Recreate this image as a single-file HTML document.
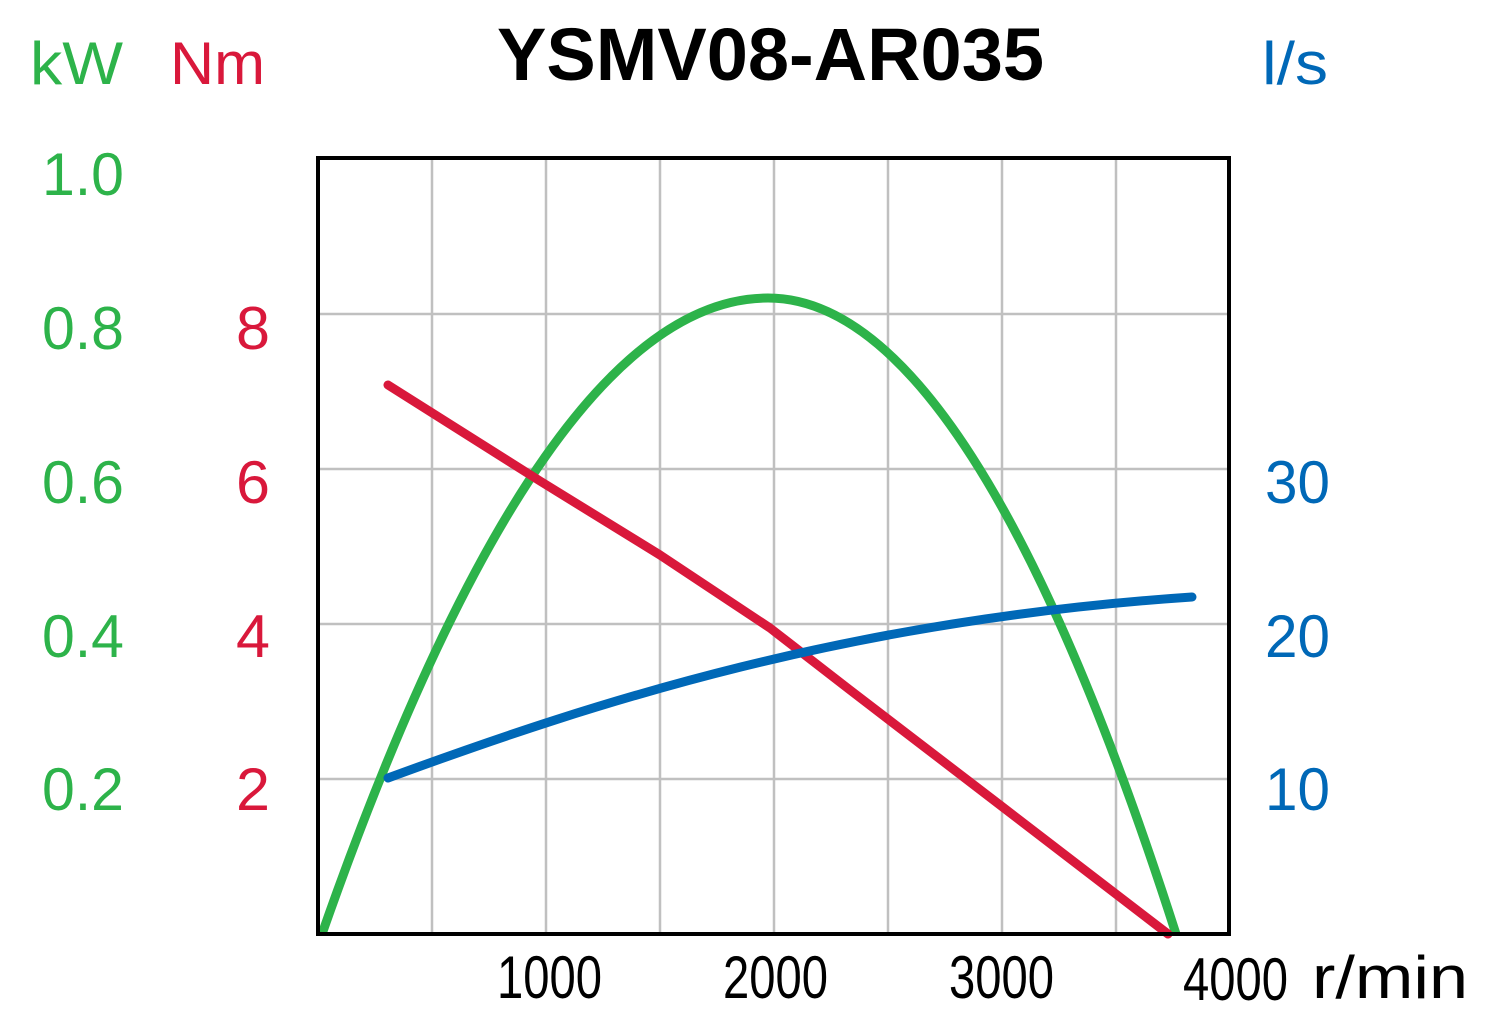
<!DOCTYPE html>
<html><head><style>html,body{margin:0;padding:0;background:#fff}svg{display:block}</style></head>
<body>
<svg width="1498" height="1014" viewBox="0 0 1498 1014" xmlns="http://www.w3.org/2000/svg" font-family="Liberation Sans, sans-serif">
<g stroke="#c0c0c0" stroke-width="2.5">
<line x1="432" y1="158" x2="432" y2="934"/><line x1="546" y1="158" x2="546" y2="934"/><line x1="660" y1="158" x2="660" y2="934"/><line x1="774" y1="158" x2="774" y2="934"/><line x1="888" y1="158" x2="888" y2="934"/><line x1="1002" y1="158" x2="1002" y2="934"/><line x1="1116" y1="158" x2="1116" y2="934"/>
<line x1="318" y1="314" x2="1229" y2="314"/><line x1="318" y1="469" x2="1229" y2="469"/><line x1="318" y1="624" x2="1229" y2="624"/><line x1="318" y1="779" x2="1229" y2="779"/>
</g>
<path d="M322,934 Q545,298 768,298 Q972,298 1176,934" fill="none" stroke="#2db34a" stroke-width="9"/>
<polyline points="388,385 540,481 660,555 770,628 850,690 1000,805 1168,934" fill="none" stroke="#d9183b" stroke-width="9" stroke-linecap="round" stroke-linejoin="round"/>
<path d="M388,778 C600,700 850,620 1192,597" fill="none" stroke="#0068b7" stroke-width="9" stroke-linecap="round"/>
<rect x="318" y="158" width="911" height="776" fill="none" stroke="#000" stroke-width="4"/>
<text x="497" y="80" font-size="74" font-weight="bold" textLength="547" lengthAdjust="spacingAndGlyphs">YSMV08-AR035</text>
<g font-size="60">
<text x="30" y="84" fill="#2db34a" textLength="93" lengthAdjust="spacingAndGlyphs">kW</text>
<text x="170" y="84" fill="#d9183b" textLength="95" lengthAdjust="spacingAndGlyphs">Nm</text>
<text x="1262" y="84" fill="#0068b7" textLength="66" lengthAdjust="spacingAndGlyphs">l/s</text>
<g fill="#2db34a">
<text x="42" y="195" textLength="82" lengthAdjust="spacingAndGlyphs">1.0</text>
<text x="42" y="349" textLength="82" lengthAdjust="spacingAndGlyphs">0.8</text>
<text x="42" y="503" textLength="82" lengthAdjust="spacingAndGlyphs">0.6</text>
<text x="42" y="657" textLength="82" lengthAdjust="spacingAndGlyphs">0.4</text>
<text x="42" y="810" textLength="82" lengthAdjust="spacingAndGlyphs">0.2</text>
</g>
<g fill="#d9183b">
<text x="236" y="349" textLength="34" lengthAdjust="spacingAndGlyphs">8</text>
<text x="236" y="503" textLength="34" lengthAdjust="spacingAndGlyphs">6</text>
<text x="236" y="657" textLength="34" lengthAdjust="spacingAndGlyphs">4</text>
<text x="236" y="810" textLength="34" lengthAdjust="spacingAndGlyphs">2</text>
</g>
<g fill="#0068b7">
<text x="1265" y="503" textLength="65" lengthAdjust="spacingAndGlyphs">30</text>
<text x="1265" y="657" textLength="65" lengthAdjust="spacingAndGlyphs">20</text>
<text x="1265" y="810" textLength="65" lengthAdjust="spacingAndGlyphs">10</text>
</g>
<g fill="#000">
<text x="497" y="998" textLength="105" lengthAdjust="spacingAndGlyphs">1000</text>
<text x="723" y="998" textLength="105" lengthAdjust="spacingAndGlyphs">2000</text>
<text x="949" y="998" textLength="105" lengthAdjust="spacingAndGlyphs">3000</text>
<text x="1183" y="1000" textLength="105" lengthAdjust="spacingAndGlyphs">4000</text>
<text x="1312" y="998" textLength="156" lengthAdjust="spacingAndGlyphs">r/min</text>
</g>
</g>
</svg>
</body></html>
